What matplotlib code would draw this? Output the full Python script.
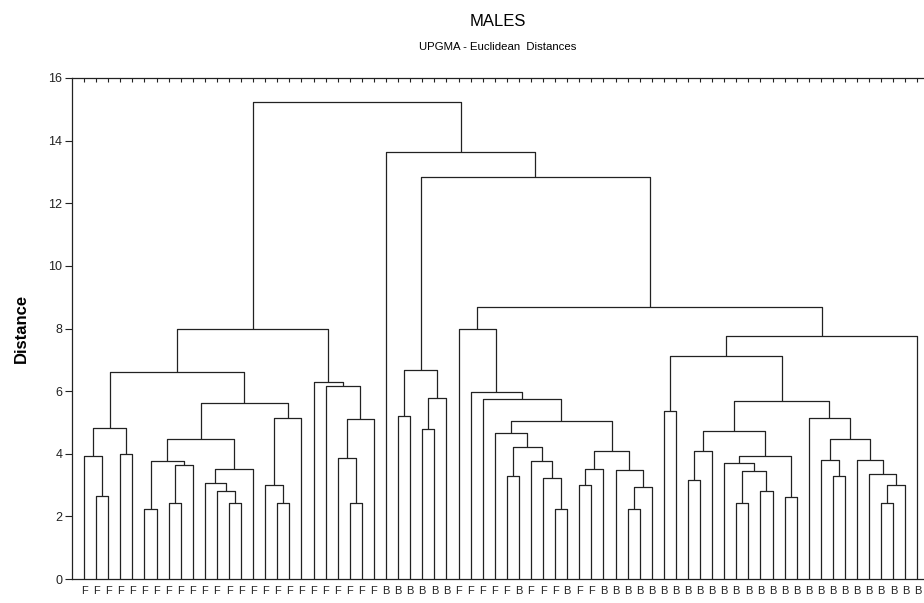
import matplotlib
matplotlib.use("Agg")
import matplotlib.pyplot as plt

plt.rcParams['font.family'] = ['Liberation Sans', 'DejaVu Sans']

# Leaf labels in dendrogram order
leaf_labels = list("FFFFFFFFFFFFFFFFFFFFFFFFF" + "BBBBBB" + "FFFFF" + "B" + "FFF" + "B" + "FF"
                   + "B" * 27)

# Merges: (child_a, child_b, height). ids < 70 are leaves, ids >= 70 are earlier merges (70 + row)
merges = [
    (1, 2, 2.64), (0, 70, 3.93), (3, 4, 4.00), (71, 72, 4.83),
    (5, 6, 2.24), (7, 8, 2.44), (75, 9, 3.65), (74, 76, 3.77),
    (12, 13, 2.44), (11, 78, 2.82), (10, 79, 3.06), (80, 14, 3.50),
    (77, 81, 4.48), (16, 17, 2.44), (15, 83, 2.99), (84, 18, 5.14),
    (82, 85, 5.63), (73, 86, 6.61), (22, 23, 2.44), (21, 88, 3.86),
    (89, 24, 5.11), (20, 90, 6.17), (19, 91, 6.29), (87, 92, 7.97),
    (26, 27, 5.19), (28, 29, 4.79), (95, 30, 5.77), (94, 96, 6.68),
    (35, 36, 3.30), (39, 40, 2.23), (38, 99, 3.24), (37, 100, 3.76),
    (98, 101, 4.21), (34, 102, 4.67), (41, 42, 2.99), (104, 43, 3.51),
    (45, 46, 2.23), (106, 47, 2.93), (44, 107, 3.48), (105, 108, 4.08),
    (103, 109, 5.05), (33, 110, 5.74), (32, 111, 5.98), (31, 112, 8.00),
    (48, 49, 5.38), (50, 51, 3.16), (115, 52, 4.10), (54, 55, 2.44),
    (56, 57, 2.82), (117, 118, 3.44), (53, 119, 3.72), (58, 59, 2.63),
    (120, 121, 3.94), (116, 122, 4.73), (66, 67, 2.44), (124, 68, 2.99),
    (65, 125, 3.34), (64, 126, 3.79), (62, 63, 3.30), (61, 128, 3.79),
    (129, 127, 4.46), (60, 130, 5.15), (123, 131, 5.68), (114, 132, 7.13),
    (133, 69, 7.77), (113, 134, 8.68), (97, 135, 12.85), (25, 136, 13.65),
    (93, 137, 15.24),
]

y_ticks = [0, 2, 4, 6, 8, 10, 12, 14, 16]
title = "MALES"
subtitle = "UPGMA - Euclidean  Distances"
ylabel = "Distance"

n = len(leaf_labels)
fig = plt.figure(figsize=(9.24, 6.03), dpi=100)
ax = fig.add_axes([72 / 924, 24 / 603, 852 / 924, 501 / 603])

pos = {i: (float(i), 0.0) for i in range(n)}
line_kw = dict(color='#222222', lw=0.9, solid_capstyle='butt')
for k, (a, b, h) in enumerate(merges):
    xa, ha = pos[a]
    xb, hb = pos[b]
    ax.plot([xa, xa, xb, xb], [ha, h, h, hb], **line_kw)
    pos[n + k] = ((xa + xb) / 2.0, h)

ax.set_xlim(-1, n - 1 + 0.54)
ax.set_ylim(0, 16)
ax.set_yticks(y_ticks)
ax.set_yticklabels([str(v) for v in y_ticks], fontsize=9)
ax.set_xticks(range(n))
ax.set_xticklabels(leaf_labels, fontsize=8, color='#333333')
ax.tick_params(axis='x', bottom=False, top=True, labelbottom=True,
               direction='in', length=3, width=0.8, pad=5, colors='#222222')
ax.tick_params(axis='y', direction='out', length=5, width=0.8, pad=2, colors='#222222')
for s in ['left', 'top', 'bottom']:
    ax.spines[s].set_linewidth(0.9)
    ax.spines[s].set_color('#222222')
ax.spines['right'].set_visible(False)

ax.set_ylabel(ylabel, fontsize=12, fontweight='bold', labelpad=14)
fig.text(498 / 924, 1 - 21 / 603, title, ha='center', va='center', fontsize=12)
fig.text(498 / 924, 1 - 47 / 603, subtitle, ha='center', va='center', fontsize=8.2)

fig.savefig("out.png", dpi=100)
